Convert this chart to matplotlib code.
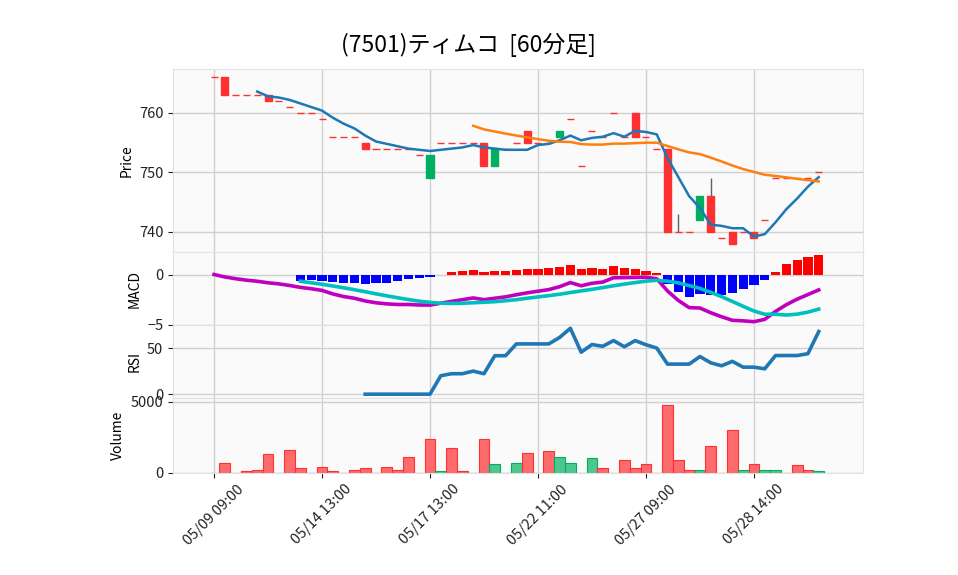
import numpy as np
import matplotlib.pyplot as plt

# font with Japanese glyphs first, DejaVu as fallback
plt.rcParams['font.family'] = ['Noto Sans CJK JP', 'DejaVu Sans']

title = '(7501)ティムコ  [60分足]'

# x tick labels (every 10th bar)
tick_pos = [0, 10, 20, 30, 40, 50]
tick_labels = ['05/09 09:00', '05/14 13:00', '05/17 13:00',
               '05/22 11:00', '05/27 09:00', '05/28 14:00']

# 60 minute bars
opens = [766, 766, 763, 763, 763, 763, 762, 761, 760, 760,
         759, 756, 756, 756, 755, 754, 754, 754, 754, 753,
         749, 755, 755, 755, 755, 755, 751, 754, 755, 757,
         755, 755, 756, 759, 751, 757, 756, 760, 756, 760,
         756, 754, 754, 740, 740, 742, 746, 739, 740, 740,
         740, 742, 749, 749, 749, 749, 750]
highs = [766, 766, 763, 763, 763, 763, 762, 761, 760, 760,
         759, 756, 756, 756, 755, 754, 754, 754, 754, 753,
         753, 755, 755, 755, 755, 755, 754, 754, 755, 757,
         755, 755, 757, 759, 751, 757, 756, 760, 756, 760,
         756, 754, 754, 743, 740, 746, 749, 739, 740, 740,
         740, 742, 749, 749, 749, 749, 750]
lows = [766, 763, 763, 763, 763, 762, 762, 761, 760, 760,
        759, 756, 756, 756, 754, 754, 754, 754, 754, 753,
        749, 755, 755, 755, 755, 751, 751, 754, 755, 755,
        755, 755, 756, 759, 751, 757, 756, 760, 756, 756,
        756, 754, 740, 740, 740, 742, 740, 739, 738, 740,
        739, 742, 749, 749, 749, 749, 750]
closes = [766, 763, 763, 763, 763, 762, 762, 761, 760, 760,
          759, 756, 756, 756, 754, 754, 754, 754, 754, 753,
          753, 755, 755, 755, 755, 751, 754, 754, 755, 755,
          755, 755, 757, 759, 751, 757, 756, 760, 756, 756,
          756, 754, 740, 740, 740, 746, 740, 739, 738, 740,
          739, 742, 749, 749, 749, 749, 750]
volumes = [0, 700, 0, 130, 200, 1330, 0, 1600, 350, 0,
           420, 140, 0, 200, 350, 0, 420, 200, 1070, 0,
           2400, 140, 1750, 140, 0, 2400, 600, 0, 700, 1400,
           0, 1550, 1100, 650, 0, 1050, 350, 0, 900, 350,
           600, 0, 4750, 900, 200, 200, 1850, 0, 3000, 150,
           600, 200, 200, 0, 550, 150, 140]

# moving averages of the close (5 and 25 bars)
sma5 = [np.nan] * 4 + [
    763.6, 762.8, 762.6, 762.2, 761.6, 761.0, 760.4, 759.2, 758.2, 757.4,
    756.2, 755.2, 754.8, 754.4, 754.0, 753.8, 753.6, 753.8, 754.0, 754.2,
    754.6, 754.2, 754.0, 753.8, 753.8, 753.8, 754.6, 754.8, 755.4, 756.2,
    755.4, 755.8, 756.0, 756.6, 756.0, 757.0, 756.8, 756.4, 752.4, 749.2,
    746.0, 744.0, 741.2, 741.0, 740.6, 740.6, 739.2, 739.6, 741.6, 743.8,
    745.6, 747.6, 749.2]
sma25 = [np.nan] * 24 + [
    757.84, 757.24, 756.88, 756.52, 756.20, 755.88, 755.60, 755.32, 755.16,
    755.12, 754.76, 754.68, 754.68, 754.84, 754.84, 754.92, 755.00, 755.00,
    754.44, 753.88, 753.36, 753.08, 752.48, 751.84, 751.16, 750.56, 750.08,
    749.60, 749.40, 749.16, 748.92, 748.68, 748.48]

# MACD panel
macd = [0.00, -0.24, -0.42, -0.56, -0.67, -0.82, -0.93, -1.09, -1.28, -1.41,
        -1.58, -1.93, -2.19, -2.36, -2.63, -2.81, -2.92, -2.98, -2.98, -3.03,
        -3.04, -2.85, -2.67, -2.50, -2.33, -2.50, -2.36, -2.22, -2.01, -1.82,
        -1.66, -1.50, -1.21, -0.80, -1.12, -0.87, -0.75, -0.32, -0.31, -0.29,
        -0.27, -0.42, -1.64, -2.58, -3.29, -3.33, -3.80, -4.20, -4.55, -4.61,
        -4.69, -4.46, -3.67, -3.00, -2.45, -1.99, -1.53]
signal = [np.nan] * 8 + [
    -0.67, -0.82, -0.97, -1.14, -1.32, -1.51, -1.71, -1.92, -2.12, -2.31,
    -2.49, -2.65, -2.77, -2.85, -2.88, -2.86, -2.81, -2.76, -2.70, -2.61,
    -2.50, -2.36, -2.23, -2.10, -1.96, -1.79, -1.63, -1.47, -1.30, -1.12,
    -0.95, -0.80, -0.66, -0.57, -0.66, -0.83, -1.10, -1.38, -1.77, -2.20,
    -2.68, -3.16, -3.63, -3.95, -3.95, -4.03, -3.94, -3.74, -3.44]
hist = [np.nan] * 8 + [
    -0.61, -0.59, -0.61, -0.79, -0.87, -0.85, -0.92, -0.89, -0.80, -0.67,
    -0.49, -0.38, -0.27, 0.00, 0.21, 0.36, 0.48, 0.26, 0.34, 0.39,
    0.49, 0.54, 0.57, 0.60, 0.75, 0.99, 0.51, 0.60, 0.55, 0.80,
    0.64, 0.51, 0.39, 0.15, -0.98, -1.75, -2.19, -1.95, -2.03, -2.00,
    -1.87, -1.45, -1.06, -0.51, 0.28, 1.03, 1.49, 1.75, 1.91]

# RSI (14)
rsi = [np.nan] * 14 + [
    0.0, 0.0, 0.0, 0.0, 0.0, 0.0, 0.0, 20.0, 22.2, 22.2,
    25.0, 22.2, 41.7, 41.7, 54.5, 54.5, 54.5, 54.5, 61.5, 71.4,
    45.5, 53.8, 51.9, 58.1, 51.4, 58.1, 53.6, 50.0, 32.6, 32.6,
    32.6, 40.8, 34.0, 30.8, 35.6, 29.3, 29.3, 27.5, 41.9, 41.9,
    41.9, 43.9, 67.9]


def add_panel(fig, left, top, right, bottom):
    """Adds an axes given in pixel coordinates of the 958x575 figure"""
    W, H = 958, 575
    ax = fig.add_axes([left / W, 1 - bottom / H, (right - left) / W, (bottom - top) / H])
    ax.set_facecolor('#fafafa')
    for s in ax.spines.values():
        s.set_color('#e2e2e2')
        s.set_linewidth(0.8)
    ax.grid(True, color='#d0d0d0', linewidth=1.0)
    ax.set_axisbelow(True)
    ax.set_xlim(-3.8, 60.1)
    ax.set_xticks(tick_pos)
    ax.tick_params(labelsize=10.5, colors='#222222')
    return ax


def main():
    x = np.arange(len(closes))
    o = np.array(opens)
    c = np.array(closes)

    up_col, down_col, wick_col = '#00b060', '#fe3032', '#606060'
    candle_cols = [up_col if c[i] > o[i] else down_col for i in range(len(c))]
    vol_cols = [down_col] + ['#4dc790' if c[i] > c[i - 1] else '#fd6b6c' for i in range(1, len(c))]
    vol_edges = [down_col] + [up_col if c[i] > c[i - 1] else down_col for i in range(1, len(c))]

    fig = plt.figure(figsize=(9.58, 5.75), dpi=100)

    ax1 = add_panel(fig, 173, 69, 863, 252)
    ax2 = add_panel(fig, 173, 252, 863, 325)
    ax3 = add_panel(fig, 173, 325, 863, 397.5)
    ax4 = add_panel(fig, 173, 397.5, 863, 472.5)

    ################ Price ##########################
    ax1.vlines(x, lows, highs, color=wick_col, linewidth=1, zorder=2)
    ax1.bar(x, c - o, bottom=o, width=0.65, color=candle_cols,
            edgecolor=candle_cols, linewidth=1, zorder=3)
    ax1.plot(x, sma5, color='#1f77b4', linewidth=1.8, zorder=4)
    ax1.plot(x, sma25, color='#ff7f0e', linewidth=1.8, zorder=4)
    ax1.set_ylim(736.6, 767.4)
    ax1.set_yticks([740, 750, 760])
    ax1.set_ylabel('Price', fontsize=10)

    ################ MACD ##########################
    hist_cols = ['red' if h > 0 else 'blue' for h in np.nan_to_num(hist)]
    ax2.bar(x, hist, width=0.85, color=hist_cols, zorder=2)
    ax2.plot(x, macd, color='m', linewidth=2.6, zorder=3)
    ax2.plot(x, signal, color='c', linewidth=2.6, zorder=3)
    ax2.set_ylim(-5.02, 2.24)
    ax2.set_yticks([-5, 0])
    ax2.set_ylabel('MACD', fontsize=10)

    ################ RSI ##########################
    ax3.plot(x, rsi, color='#1f77b4', linewidth=2.6)
    ax3.set_ylim(-3.6, 75.0)
    ax3.set_yticks([0, 50])
    ax3.set_ylabel('RSI', fontsize=10)

    ################ Volume ##########################
    ax4.bar(x, volumes, width=1.0, color=vol_cols, edgecolor=vol_edges, linewidth=0.8)
    ax4.set_ylim(0, 5300)
    ax4.set_yticks([0, 5000])
    ax4.set_ylabel('Volume', fontsize=10)

    for ax in (ax1, ax2, ax3):
        ax.tick_params(axis='x', length=0, labelbottom=False)
    ax4.set_xticklabels(tick_labels, rotation=45)

    fig.text(0.489, 0.922, title, ha='center', va='center', fontsize=16.5)

    fig.savefig('out.png', dpi=100)


if __name__ == '__main__':
    main()
